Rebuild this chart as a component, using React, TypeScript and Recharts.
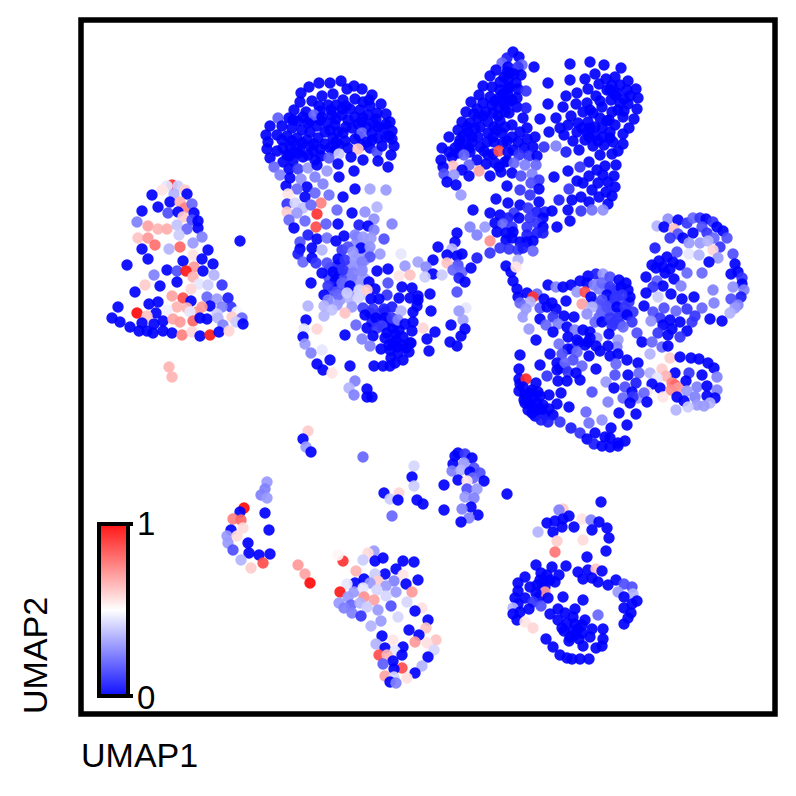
import { ScatterChart, Scatter, XAxis, YAxis, ReferenceArea } from 'recharts';

// each cell: [UMAP1, UMAP2, expression]
type Cell = [number, number, number];

const bellCells: Cell[] = [
  [17.2,61.5,.9],[17.8,61.4,.4],[16.7,61.4,.45],[16.2,61,.55],[18.5,61,.6],[15.2,60.5,0],[18.7,60.6,0],[17.4,60.6,.35],[17,59.8,0],[18,59.8,.65],[18.5,59.2,.75],[19.2,59.6,.2],[15.8,59.3,0],[14.2,58.9,0],[16.8,58.7,.15],[17.8,58.8,0],[18.3,58.3,.6],[19.4,58.7,0],[19.2,58,.15],[19.8,57.9,0],[13.7,57.8,.25],[14.8,57.4,.68],[15.8,57.1,.65],[16.7,57.1,.66],[17.7,57.5,.38],[18.7,57.1,.2],[19.8,57.2,0],[17.9,56.5,.4],[20.2,56.3,.25],[13.8,56.2,.62],[14.8,56.2,.7],[15.5,55.5,.78],[14.2,55.1,0],[16.9,55.1,.35],[18,55.3,.8],[19.3,55.7,.3],[20.8,55,0],[19.3,54.5,.56],[14.8,54.1,0],[20.2,54.1,0],[18.3,53.9,0],[12.7,53.5,0],[21.3,53.6,0],[19.4,53.3,.7],[16.7,53,0],[17.7,52.9,.15],[18.6,52.9,.95],[20.3,52.9,0],[15.4,52.5,.25],[21.4,52.5,.35],[19.3,52.3,.65],[17.7,51.8,0],[14.5,51.5,.6],[16,51.4,0],[19.9,51.6,.45],[20.8,51.5,.4],[22.2,51.5,.1],[19.1,51.1,.58],[13.5,50.8,0],[17.2,50.4,.68],[18.3,50.2,.85],[20.7,50.3,.2],[21.7,50.1,.3],[22.8,50.2,.05],[15.8,49.8,0],[14.9,49.6,0],[19.1,49.9,0],[21,49.4,0],[11.8,49.3,0],[23.1,49.3,.1],[22.2,49.3,.25],[17.7,49.3,.65],[20.2,49.3,.7],[16.7,49,.47],[13.7,48.7,.98],[15.6,48.7,0],[14.7,48.4,.62],[18.7,49.2,.65],[19.7,48.8,.7],[19,48.8,.45],[21.7,48.6,.4],[23.7,48.8,.48],[11.2,48.2,0],[12,47.8,0],[16.3,47.9,0],[17.3,48.1,.68],[18,47.8,.7],[19.3,47.9,.8],[20.7,48.1,0],[20,48.2,0],[21.8,48.2,.35],[23.2,48.3,.6],[24.2,48.2,.2],[14.2,47.7,0],[15.4,47.6,0],[22.3,47.5,.25],[23.6,47.8,.4],[24.3,47.6,0],[13,47.3,0],[13.9,46.9,0],[14.7,46.9,0],[15.3,46.7,0],[16.3,46.9,0],[17.2,46.7,0],[18.2,46.5,.75],[19.2,46.8,.58],[20,46.4,0],[21,46.5,.95],[21.9,46.8,0],[22.9,46.9,.58],[16.9,43.3,.65],[17.2,42.3,.65],[24,55.9,0],
];

const domeCells: Cell[] = [
  [34.1,71.9,0],[31.9,71.7,0],[33,71.7,0],[30.9,71.3,0],[35.4,71.4,0],[34.7,71.1,0],[36.2,71.1,0],[30.1,70.7,0],[32.2,70.4,0],[33.3,70.6,0],[37.2,70.5,0],[30,69.8,0],[31.2,69.9,0],[34.3,70,0],[35.5,70.1,0],[38.1,69.6,0],[36.3,69.8,0],[31.9,69.4,0],[32.8,69.5,0],[33.6,69.5,0],[37,69.4,0],[35,69.1,0],[36,69,0],[29.4,69,0],[30.6,68.8,0],[31.4,68.5,.2],[32.2,68.3,0],[33.2,68.5,0],[34.2,68.5,0],[36.8,68.5,0],[37.7,68.7,0],[38.6,68.6,0],[35.5,68.3,0],[27.8,68.2,.18],[28.9,68.2,0],[29.8,67.9,0],[30.8,67.7,0],[31.7,67.4,0],[32.7,67.7,0],[33.5,67.5,0],[34.8,68,0],[36.2,67.8,0],[37.3,67.7,0],[39,67.8,0],[27,67.4,0],[28.2,67.4,0],[29.2,67.2,0],[30.2,67,0],[31,66.8,0],[32.5,66.8,0],[34.3,66.7,0],[35.2,67.2,0],[36.2,66.7,.2],[37.2,66.7,0],[38.2,67.2,0],[39.2,66.9,0],[26.6,66.5,0],[27.7,66.5,0],[28.7,66.4,0],[29.7,66.2,0],[30.7,66,0],[31.8,66.2,0],[33.3,66.2,0],[35.5,66.1,0],[36.7,65.8,0],[37.8,66.2,0],[39.2,66.1,0],[26.8,65.8,0],[29,65.4,0],[30,65.2,0],[31,65.4,0],[32,65.1,0],[33,65.2,0],[33.9,65.5,0],[34.8,65.2,0],[35.8,65.1,.62],[37.7,64.8,.15],[38.2,65.4,0],[39.4,65.4,0],[26.7,65.1,0],[27.7,64.9,0],[28.7,64.5,0],[29.8,64.7,0],[30.8,64.5,0],[32.1,64.4,0],[32.9,64.2,.18],[33.9,64.6,.4],[35.1,64.3,0],[39.1,64.5,0],[27,64.2,0],[28.3,63.8,0],[29.3,63.9,0],[36.3,64,0],[37.8,63.9,0],[33.8,63.6,0],[27.4,63.3,.2],[28.9,63.1,0],[29.8,63.1,.12],[30.8,63.2,.3],[31.7,63.5,0],[32.7,62.9,.3],[35.4,62.9,0],[38.8,63.3,0],
];

const neckCells: Cell[] = [
  [28,62.5,.25],[29,62.2,0],[33.9,62.3,0],[30.1,62.1,.28],[31.5,62.3,.25],[28.6,61.4,0],[30.7,61.3,0],[32.3,61.6,.25],[29.7,61.1,.2],[35.5,61.1,0],[37,61.1,.32],[38.6,61,.3],[28.8,60.6,.55],[31.5,60.7,.2],[30.5,60.3,0],[32.9,60.5,.22],[34.3,60.3,0],[28.7,59.6,.1],[29.5,59.7,.42],[32.1,59.7,.75],[30.3,59.2,.38],[31.1,59.5,.2],[37.7,59.3,.35],[33.7,59,.2],[36.5,58.8,.28],[28.7,58.8,.6],[29.7,58.7,.3],[31.7,58.6,.9],[35.2,58.7,0],[37.4,58.1,.28],[28.9,58,.2],[30.5,57.9,.2],[29.4,57.2,0],[31.6,57.3,.85],[32.6,57.6,.18],[33.8,57.6,0],[35.9,57.5,.05],[36.8,57.4,0],[39.2,57.6,.25],[37.4,57,.25],[30.8,56.5,.05],[30,55.8,.15],[31.7,56.1,0],[32.7,56.2,.22],[33.6,55.9,0],[34.4,56.4,0],[35.5,56.5,.25],[36.3,56.3,.3],[37.1,56.2,.3],[38.4,56.1,.15],[30,55.1,0],[31.2,55.2,0],[32.2,55,.35],[34.2,55,.1],[34.8,55.3,.15],[36.1,55.2,0],[37,55.3,.28],[38,54.6,.3],[35.3,54.8,.3],[29.8,54.6,.05],[30.3,53.8,.2],[31.2,54.2,0],[31.6,53.7,.1],[32.7,53.7,.15],[33.8,54.1,0],[34.5,54,.1],[35.5,54,.3],[37,54.3,.15],[36.2,53.8,.25],[40.1,54.6,.45],[40.5,53.4,.3],[41.8,53.8,.32],[32.2,52.7,0],[33.3,52.8,0],[34.3,53,.1],[35.3,52.7,.25],[36.2,52.9,.27],[37.7,52.9,0],[38.8,53.1,0],[39.9,52.4,.55],[41,52.5,.62],[31.1,51.7,0],[33.5,51.9,0],[34.2,51.7,.2],[32.8,51.4,.1],[35.2,52,.25],[36.1,51.7,.3],[36.9,51.8,0],[38.8,51.7,.15],[40.2,51.3,0],[41.2,51.2,0],[35,51.4,0],[37.5,51.1,0],[35.9,51,.42],[36.7,51,.6],[33.8,50.5,.2],[32.4,50.5,0],[32.8,50,.25],[34.7,50.7,.4],[35.8,50.2,.42],[38.7,50.5,.1],[37.1,50.1,0],[37.9,50.1,0],[39.9,50.2,0],[41,50.2,0],[41.8,50,0],[30.8,49.4,.35],[32.4,49.4,.35],[33.7,49.5,.3],[33.2,49,.38],[35.2,49.3,.3],[36.3,49.2,.12],[37.3,49.1,.1],[38.4,49.1,.05],[39.2,49.3,.05],[41.3,48.8,0],[32.4,48.4,.35],[34.5,48.7,.62],[36.5,48.5,0],[37.6,48.2,0],[38.5,48.2,0],[40.1,48.9,.35],[39.2,48.2,.1],[39.8,48,.25],[30.6,48,0],[40.5,47.6,0],[41.3,47.8,0],[36.7,47.2,0],[38.2,47.4,.12],[35.6,47.5,.2],[30.4,47.1,.45],[31.7,47.1,.58],[37.7,47.2,.1],[41.2,46.9,0],[38.7,46.7,0],[39.5,46.6,0],[40.3,46.3,0],[34.5,46.5,0],[36.2,46.1,.25],[37.3,46.4,0],[30.3,46.3,0],[30.5,45.6,.3],[41,45.7,0],[39.3,45.7,0],[40.2,45.5,0],[37,45.4,.25],[31.1,44.7,.25],[32.2,45,.45],[38.1,45.1,0],[39,45,0],[40.9,44.8,0],[39.8,44.7,0],[39.1,44.2,0],[40.3,44,0],[33,44,0],[31.7,43.6,0],[37.4,43.4,0],[38.3,43.4,0],[39,43.4,0],[39.5,43.7,0],[35,43.4,0],[32.3,43,0],[33.2,42.7,.55],[35.5,41.9,.25],[34.9,41.2,.35],[36.7,41.1,0],[35.4,40.5,.25],[36.7,40.3,0],[37.2,40.3,0],
];

const bridgeCells: Cell[] = [
  [45.7,56.7,0],[45.5,55.8,0],[43.8,55.3,0],[47,57.3,.25],[47.7,56.5,.25],[48.5,57.3,.3],[49,55.9,.72],[49,54.7,.1],[45.2,55.1,.35],[44.7,54.5,0],[45.7,54.4,0],[46.2,54.6,0],[47.7,54.2,.05],[43.3,54,0],[44.7,53.7,.62],[42.6,53.3,.27],[45.8,53.5,.15],[45.3,53,.2],[46.2,52.8,.2],[47.1,53.2,0],[43.3,52.6,0],[42.5,52.3,.4],[44.2,52.5,.4],[45.9,52.2,.05],[46.5,51.8,0],[45.7,50.8,.15],[43,50.6,0],[41.8,50.4,0],[41.7,49.4,0],[43.1,48.9,0],[46.6,49.2,.45],[45.9,48.9,.3],[46.3,48,.32],[45.1,47.5,0],[46.5,47.1,0],[42.3,47.2,.58],[43.5,46.8,0],[46.1,46.4,0],[42.7,46.1,0],[45,45.8,0],[41.1,45.7,0],[45.7,45.4,0],[42.9,44.9,0],
];

const topLeftCells: Cell[] = [
  [51.3,74.8,0],[51.9,74.3,0],[50.7,74.2,.05],[50.2,73.7,.2],[52.2,73.5,.2],[53.4,73.3,0],[50.8,73.3,0],[49.6,73,0],[51.8,73.3,.1],[50.7,72.8,0],[52.1,72.5,0],[49,72.4,0],[51.4,72.6,0],[50,71.8,0],[50.8,72,0],[51.6,71.7,0],[48.3,71.4,0],[49.2,71.3,0],[50,71,0],[50.9,71.3,0],[51.8,71.1,0],[52.6,70.9,.1],[47.9,70.5,0],[49,70.3,0],[49.9,70.2,0],[50.8,70.5,0],[51.7,70.2,0],[47.1,69.8,0],[48.3,69.7,0],[49.2,69.5,0],[50.8,69.7,0],[51.7,69.3,0],[52.6,69.2,.05],[47.7,69.1,0],[48.6,68.8,0],[49.9,69.2,0],[46.6,68.8,0],[49.3,68.7,0],[50.9,68.7,0],[47.8,68.2,0],[48.8,67.8,0],[50,67.9,0],[52.3,68.2,0],[46.2,67.8,0],[47,67.7,0],[51.2,67.5,0],[48,67.3,0],[52.7,67.2,0],[45.8,67,0],[46.8,66.8,0],[48.8,66.7,0],[49.7,67,0],[52,66.8,0],[44.9,66.3,0],[46,66,0],[47.2,65.8,0],[47.8,66.3,0],[48.7,65.8,0],[50.2,66.7,0],[51.2,66.3,0],[53.5,66.3,0],[52.7,66.1,0],[51.8,65.8,0],[49.4,65.8,0],[45.5,65.2,0],[46.5,65.5,0],[48,65.3,0],[50.3,65.7,0],[53.3,65.3,0],[44.2,65.2,0],[47,64.8,0],[49.9,64.9,.85],[50.8,64.8,0],[48.8,64.5,0],[51.9,64.5,.1],[52.9,64.4,.1],[53.7,64.4,0],[54.4,65.3,.1],[55.6,65.4,.25],[45.2,64.3,0],[46.4,64.5,.2],[47.7,64,0],[44.1,64,0],[48.6,63.6,0],[49.5,63.7,0],[50.5,63.8,0],[46.9,63.5,.2],[51.4,63.7,.2],[52.5,63.5,.25],[53.6,63.5,.2],[45.3,63.4,.62],[44.3,63.3,0],[46.2,63,0],[47.9,62.9,.68],[44.4,62.6,.15],[45.4,62.5,.3],[50.1,62.8,0],[51.2,62.7,0],[46.9,62.4,0],[49,62.4,0],[52.1,62.4,.15],[53.2,62.6,.25],[44.7,61.8,0],[53.9,62,.1],[45.6,61.5,0],[53.1,61.7,.15],[50.7,61.4,0],[53.9,61.1,0],[46.1,60.5,.3],[52,61,.1],[53,60.5,.1],[49.6,60.1,0],[53.9,59.8,0],[50.8,59.7,0],[52,59.5,0],[52.8,59.2,.1],[47.3,59,0],[49,58.7,0],[50,58.5,0],[51.4,58.7,.1],[53.7,58.8,.05],[54.5,58.8,.05],[55.2,58.9,0],[50.8,58.2,.05],[51.9,58.2,0],[49.5,57.7,0],[53,58.2,.1],[54.3,58.2,0],[50.3,57.6,.2],[51.2,57.3,.1],[52.7,57.3,.1],[53.7,57.7,.1],[54.3,57.3,0],[55.7,57.3,0],[49.7,56.8,0],[50.6,56.7,0],[51.3,56.8,0],[53.7,56.7,.05],[52.7,56.5,.05],[54.3,56.7,.05],[50.6,56,0],[52,55.8,0],[52.7,55.8,0],[53.3,55.9,0],[51.2,56.2,0],[50,55.2,.1],[50.9,55.1,.1],[51.8,55,.1],[52.3,55.2,.05],[53.3,54.9,.2],
];

const topRightCells: Cell[] = [
  [57,73.6,0],[59,73.8,0],[60.4,73.5,0],[62.1,73.2,0],[59.5,72.6,0],[54.8,71.7,0],[57,72,0],[58.5,72.1,0],[61.5,72.3,0],[60.6,72.1,0],[62.8,71.9,0],[59.9,71.6,0],[62,71.5,0],[61.2,71.5,0],[58.8,71.1,0],[63.6,71.1,0],[62.7,71,0],[60.7,71,0],[61.7,70.7,0],[57.7,70.7,0],[56.6,70.4,0],[59.6,70.4,0],[63.8,70.2,0],[63,70.4,0],[61.1,70,0],[62,69.7,0],[62.8,69.6,0],[58.7,69.7,0],[57.6,69.6,0],[54.8,69.6,0],[56.3,69.3,0],[60.2,69.3,0],[63.7,69.1,0],[61.2,68.8,0],[58.3,68.8,0],[59.3,68.7,0],[62.3,68.3,0],[54,68.1,0],[55.6,68.2,0],[57.1,68.4,0],[60,68.2,0],[63.4,68.1,0],[60.7,67.9,0],[58.8,67.8,0],[57.8,67.7,0],[61.5,67.5,0],[56.8,67.5,0],[56,67.2,0],[59.5,67.3,0],[60.2,67.2,0],[62.9,67.2,0],[57.7,66.8,0],[54.9,66.8,0],[58.7,66.8,0],[61,66.8,0],[62.3,66.6,0],[56.4,66.5,0],[59.5,66.4,0],[60.3,66.3,0],[58.5,66,0],[57.3,65.9,0],[61.3,65.8,0],[60.4,65.5,0],[62.3,65.6,0],[59.3,65.4,0],[57.9,65,0],[61.8,64.9,0],[56.6,64.8,.05],[60,64.5,0],[61.2,64.6,0],[58.9,63.8,0],[61.6,63.5,0],[60.5,63.4,0],[58,63.3,.1],[59.7,63,0],[56.8,62.9,0],[61.4,62.4,0],[58.9,62.4,0],[60.3,62.5,0],[55.4,62.3,0],[57.7,61.9,0],[60.8,61.8,0],[59.8,61.7,0],[58.3,61.7,0],[61.5,61.3,0],[56.9,61.1,.1],[59.2,61,0],[60.6,60.8,0],[61.2,60.4,0],[58.1,60.3,0],[59.9,60.3,0],[55.9,60,.05],[57.2,60,0],[58.9,59.8,0],[60.8,59.6,0],[56.8,59,0],[58.1,58.9,.1],[59.2,59,.22],[60.3,59,.28],[57,57.9,0],
];

const ringCells: Cell[] = [
  [66.8,58.1,.28],[67.8,58,0],[65.7,57.4,.35],[66.4,57.3,0],[67.4,57.1,.62],[68.7,57.7,.1],[69.3,58.2,.2],[70,58.2,.1],[70.6,58.1,0],[71.3,57.8,.1],[70.2,57.3,.15],[71.7,57.3,0],[72.3,56.9,0],[69.3,56.7,0],[67.8,56.6,.15],[67,56.2,.1],[68.3,56.2,0],[70.7,56.7,.1],[71.4,56.2,.2],[72.7,56.2,.15],[68.9,55.7,.3],[70,55.7,.3],[70.8,55.9,.35],[65.5,55.2,.05],[72,55.3,.1],[71.3,55,.58],[67.7,54.8,.15],[73.3,54.6,.15],[68.9,54.6,.45],[69.9,54.5,.35],[66.7,54.3,0],[71.8,54.2,.3],[65.9,53.9,0],[70.9,53.8,0],[73.5,53.6,0],[65.2,53.5,0],[67.3,53.8,0],[68,53.5,0],[66.3,53.3,0],[65.6,53.2,0],[67,53.1,0],[73.8,52.8,0],[68.7,52.7,.2],[70.2,52.7,.2],[73.1,52.6,0],[66.5,52.7,0],[64.6,52.3,0],[67.4,52.1,0],[74.2,52.2,.1],[65.7,51.9,.18],[66.3,51.4,0],[68.1,51.4,.25],[74.2,51.6,0],[65.3,51.3,.1],[73.3,51.3,.28],[71.3,51,.25],[74.4,51,.25],[64.6,50.7,0],[67.1,50.6,0],[65.8,50.3,.4],[69.4,50.3,0],[74.1,50.3,.05],[68.2,50.1,0],[73.1,50.1,.15],[71.4,49.7,.25],[64.4,49.4,0],[66.4,49.2,.15],[73.8,49.5,.25],[68.7,49.1,.1],[70.2,49.2,.2],[67.6,48.9,.2],[65.3,48.8,.15],[73.5,49.2,.3],[73,48.7,.35],[69.5,48.4,.1],[66,48.2,.1],[67,48,0],[71,48.1,0],[72.2,47.9,0],[65.1,47.9,.28],[68,47.8,0],[69.2,47.8,.1],[66.3,47.5,0],[67.2,47.1,0],[68.7,46.9,0],[65.8,46.7,.1],[66.8,46.5,0],[68,46.3,.1],[63.7,46.7,.15],[64.2,45.8,0],[65.2,45.8,.2],[66.2,45.3,.2],[66.8,45.4,0],
];

const flowerCells: Cell[] = [
  [50.6,53.4,0],[51.1,52.8,0],[51.8,54,.35],[51.6,53.3,.55],[51.3,51.9,0],[51.7,51.1,0],[51.8,50.3,0],[52.7,50.7,0],[53.7,50.6,.2],[53.3,50.3,.9],[53,49.8,.35],[52,49.7,.2],[52.6,49.1,.3],[52.3,48.3,.3],[53.3,48.3,.5],[54,49.2,.15],[52.9,47.1,.3],[53.6,46,0],[54.8,51.5,0],[55.6,51.3,.25],[56.3,51.3,0],[57.1,51.5,0],[58,51.9,0],[58.8,52.4,0],[58.7,51.7,0],[59.6,52.6,.05],[60.3,52.6,.3],[59.4,51.5,.25],[60.2,51.7,.2],[61,52.3,.15],[61.9,52,0],[62.6,51.7,0],[57.7,50.8,.3],[58.5,50.8,.85],[59.1,50.3,0],[61,51.3,.1],[60.7,50.5,0],[62.8,51,0],[63,50.3,0],[56.6,49.9,0],[58.2,49.6,.68],[54.4,50.1,0],[54.7,49.3,0],[55.2,49.7,0],[55.6,49.1,0],[61.5,50.2,.1],[62.2,50.5,.1],[60.2,50,.15],[59.2,49.3,.35],[60.7,49.3,.15],[61.7,49.3,0],[62.5,49.3,.1],[63.3,48.8,.1],[58.7,48.6,.28],[56.4,48.4,0],[57.4,48.3,0],[55.3,48.3,.1],[54,48.1,0],[54.6,47.5,.2],[55.8,47.6,.25],[59.5,47.8,.2],[60.2,47.8,0],[61,48.2,.1],[61.8,48.2,.1],[62.7,48.5,0],[63.2,47.8,.1],[62.3,47.3,.2],[61.3,47.7,.1],[56.7,47.3,0],[57.5,47,.25],[55.3,46.8,0],[58.3,47,0],[59,46.8,0],[60.9,46.6,0],[59.7,46.2,.3],[56.8,46.3,0],[57.7,46,0],[58.5,45.5,0],[59,46.2,0],[59.6,45.4,0],[55.9,45.6,.22],[61.8,46,.3],[61.7,45.3,.25],[60.8,45.4,0],[56.8,45.1,0],[57.7,44.8,.2],[60,44.9,0],[55,44.6,0],[61,44.4,0],[61.8,44.6,0],[56.2,44.6,.15],[52,44.5,0],[58.9,44.4,0],[62.7,44,0],[63.8,43.7,0],[57.3,44,.15],[55.7,43.7,0],[56.5,43.7,.2],[58.2,43.4,.2],[61.6,43.6,.2],[54,43.5,0],[51.9,43.1,0],[59.6,43.1,0],[55.7,43,0],[56.8,42.8,.1],[57.6,42.7,0],[62.8,42.5,0],[61.5,42.5,.15],[54.7,42.4,.1],[51.9,42.1,0],[52.6,42.1,.92],[55.8,41.9,0],[56.7,41.9,0],[58,42,0],[53.6,41.7,0],[60.6,41.8,.3],[59.2,40.8,.15],[61.4,41.2,0],[52.3,41.3,0],[53.2,41,0],[54.9,40.5,0],[56.1,40.7,0],[54,40.4,0],[52.5,40.5,0],[53.3,40.2,0],[55.7,39.6,0],[54.3,39.5,0],[52.5,39.7,0],[53.3,39.3,0],[56.9,39.3,0],[60.8,39.8,.25],[52.8,39,0],[54.5,38.5,0],[58.6,38.8,.2],[61.9,38.7,0],[63.6,38.6,0],[53.5,38.4,0],[55.3,38.5,0],[54.1,38,.05],[54.8,37.8,.05],[56,37.8,.1],[60.2,38,.28],[58.9,37.7,.22],[57.1,37.2,.05],[62.7,37.5,0],[61.1,37.2,0],[58,36.7,.1],[59.5,36.7,0],[58.7,36.1,0],[60.5,36.3,0],[61,36.2,0],[62.5,35.9,0],[61.8,35.7,0],[59.4,35.6,.05],[60.2,35.4,0],[61,35.3,0],[61.8,35.4,0],
  [67,44.2,.6],[68,44.3,0],[69.1,44.2,0],[69.9,44.1,0],[65,44.6,.35],[70.8,43.7,0],[71.4,43.2,0],[66.2,43.1,.6],[65,42.7,.35],[63.9,42.7,.2],[68.9,42.7,.1],[67.5,42.7,0],[70.2,42.5,0],[66.6,42.4,.65],[71.7,42.3,.25],[68.6,41.9,0],[67.2,41.7,.75],[65.7,42.2,.45],[63.6,41.7,.05],[62.5,41.3,.15],[65.2,41.6,0],[66,41.2,0],[69.7,41.3,.25],[70.7,41.4,0],[67.5,41.5,.8],[67.8,41.2,.7],[68.7,40.9,.3],[71.7,41,.25],[67.1,41,.72],[63.2,40.8,0],[64.7,40.8,.55],[63.8,40.2,.3],[62.3,40.2,.2],[63.3,40.3,.1],[64.4,40.7,.2],[66.3,40.3,.55],[67.7,40.3,0],[69.5,40.3,.25],[70.7,40.4,0],[71.5,40.2,0],[64.7,39.8,0],[63,39.7,0],[68.4,39.9,0],[71,39.7,.35],[69.7,39.5,.3],[70.4,39.4,.3],[68.8,39.3,.4],[67.6,39,.35],
];

const leftArcCells: Cell[] = [
  [30.8,36.9,.6],[30.3,36.1,0],[30.6,35.3,.3],[31.1,34.8,0],[36.3,34.3,.2],[26.7,31.8,.3],[26.5,31.1,.25],[26.1,30.5,.25],[26.7,30.2,.3],[24.4,29.2,.98],[24,28.8,0],[26.5,28.7,0],[23.3,28.1,.75],[24.1,28,.8],[24.3,27.2,.57],[26.9,27,0],[23.1,27,0],[22.7,26.4,.3],[23.7,26.4,.57],[22.8,25.7,.3],[24.8,25.7,0],[23.3,25,.15],[24.9,24.7,0],[25.9,24.5,0],[27,24.6,0],[24.1,24,.35],[26.3,23.7,.85],[25.1,23.2,.6],[29.8,23.5,.7],[30.5,22.6,.68],[31,21.7,.98],
];

const lowerMidCells: Cell[] = [
  [41.4,33.4,.42],[41.2,32.3,0],[41.4,31.4,.4],[38.4,30.7,0],[39.9,30.7,.58],[39,30.1,.4],[39.8,30,0],[41.7,30,0],[42.3,29.6,0],[39.2,28.4,.2],[44.4,31.5,0],[44.4,29,0],[37.4,24.9,.3],[36.8,24.7,.57],[38.3,24.2,0],[37.5,23.9,0],[34.3,23.9,.9],[36.3,24,.4],[40.3,23.9,0],[41.4,23.8,0],[35.6,22.9,.65],[39.6,23.1,0],[38.5,22.6,0],[37.5,22.6,.4],[36.4,22.1,0],[35.5,21.7,0],[40.3,22.5,.55],[41.8,22,0],[37.8,21.9,.6],[39.4,21.9,.25],[34.7,21.6,.45],[40.6,21.6,0],[38.6,21.4,.3],[37,21.7,.3],[34,20.8,.95],[35.4,20.8,.3],[36.3,21.2,.45],[37.7,21,.42],[41.2,20.8,.7],[39.6,20.8,.3],[34.8,20.3,.3],[36.4,20.3,.72],[37.4,20,.68],[38.6,20.4,.42],[33.9,19.7,.3],[35.1,19.5,.2],[36,19.7,.35],[39.1,19.4,.15],[40.7,19.8,.42],[34.4,19.2,.25],[36.7,19.3,.4],[37.8,19,.3],[42.2,19.2,.56],[41.5,18.9,0],[35.2,18.7,.25],[36.1,18.4,.1],[39.8,18.3,.42],[42.8,18,0],[38.1,17.9,.3],[37.1,17.4,.35],[40.9,17,0],[42.6,17.2,.62],[41.9,16.5,0],[38.2,16.4,0],[43.6,16,.62],[39.3,16,.55],[41.5,15.8,.7],[42.7,15.7,.56],[37.6,15.6,.35],[38.5,15.2,0],[40.3,15.3,0],[43.4,15,.42],[39.5,14.9,.45],[37.9,14.5,.85],[38.7,14.5,.65],[40.2,14.5,0],[42.8,14.3,0],[39.3,13.9,0],[38.3,13.6,.18],[42.2,13.4,.35],[40.2,13.2,.85],[39.4,13.1,0],[41.5,12.7,0],[38.5,12.4,.68],[39.4,12.3,.42],[40.7,12.2,.56],[39,11.8,0],[39.6,11.7,.25],[33.8,24.5,.52],
  [45.8,34.7,0],[45.5,34.4,0],[46.5,34.6,.1],[47.2,34.2,0],[45.3,33.6,0],[46.4,33.7,.3],[45.2,32.9,.25],[46.1,33,.35],[47.4,33.2,.15],[47,32.8,0],[48,32.7,.15],[47.3,32.2,.2],[45.8,32,0],[48.4,31.9,0],[46.7,31.9,.55],[46.7,31.1,.15],[47.7,31.1,.3],[46.5,30.3,.3],[47.4,30.2,.25],[50.7,30.6,0],[47.1,29.3,0],[46.2,29.1,.25],[47.8,28.5,0],[46.9,28.2,.25],[46.1,27.8,0],
];

const lowerRightCells: Cell[] = [
  [60.1,29.8,0],[56.3,29.1,.6],[55.9,29,.25],[56.9,28.4,0],[58.2,28.1,.55],[59.1,28,.25],[59.9,27.8,0],[54.7,27.7,0],[55.5,27.9,0],[56.3,28.1,0],[56.2,27.3,0],[55.3,26.8,0],[57.4,27.3,0],[59.2,27,0],[60.7,27.2,0],[53.8,26.8,.35],[60.9,26.2,0],[55.7,25.9,.6],[58.3,26,.57],[55.5,24.8,.77],[60.6,24.9,0],[58.7,24.3,0],[53.6,23.5,0],[55.2,23.3,0],[56.6,23.4,0],[54.1,22.7,0],[52.5,22.3,0],[54.7,22.5,0],[55.9,22.5,0],[57.8,22.8,0],[58.8,23,0],[59.6,23.1,.62],[60.2,22.9,0],[58.3,22.1,0],[54,22,0],[55,22,0],[55.5,21.8,0],[59.2,22.2,0],[59.8,21.8,0],[61.6,22,0],[51.8,21.7,0],[53,21.3,0],[53.7,21.5,0],[54.5,21.3,0],[60.8,21.5,0],[62.4,21.6,.15],[63.2,21.3,.15],[54.5,20.8,.7],[51.8,20.9,0],[53.6,20.7,0],[61.8,20.8,.3],[52.5,20.2,0],[51.5,20.2,0],[54.8,20.2,0],[56.3,20.3,0],[63.3,20.6,.35],[62.4,20.3,0],[58.3,20,0],[53.3,19.8,.1],[51.8,19.6,0],[54.1,19.4,.15],[63.7,19.9,0],[63.2,19.6,0],[62.4,19.2,0],[51.3,19.2,.35],[52.9,19.1,0],[55.8,19.1,0],[57.5,19.1,0],[52,18.8,0],[51.3,18.6,0],[55,18.6,0],[56.5,18.7,0],[59.8,18.5,.2],[63.1,18.7,0],[51.7,18,0],[52.5,17.8,.55],[55.8,18,0],[57.3,18.3,0],[58.5,18,0],[62.8,18.2,0],[62.4,17.6,0],[56.7,17.7,0],[57.5,17.6,0],[58.2,17.5,0],[53.3,17.2,.58],[56.4,16.9,0],[57.3,16.9,0],[59.2,17.1,0],[60.3,17.1,0],[58.2,16.7,0],[59,16.3,0],[54.6,16.1,0],[60.3,16.1,0],[57.9,16.1,0],[56.9,15.9,0],[58.3,15.4,0],[60.2,15.4,0],[55.3,15.3,0],[59.6,15.2,0],[56,14.5,0],[56.7,14.2,0],[57.2,14.1,0],[58,14.1,0],[58.9,14.1,0],
];

// overlapped cells in the crowded parts of each cluster
const crowdedCells: Cell[] = [
  [29.3,68,0],[30.3,68.3,0],[31,67.9,0],[32,68,0],[33.6,68.1,0],[34.6,67.3,0],[35.8,67.6,0],[36.7,67.3,0],[37.8,67.3,0],[38.6,67.6,0],[33,67,0],[33.8,66.8,0],[35.9,66.4,0],[37.2,66,0],[38.6,66.3,0],[28.2,66,0],[29.2,65.9,0],[30.2,65.7,0],[31.4,65.6,0],[32.5,65.6,0],[33.6,65.8,0],[34.5,65.9,0],[36.2,65.5,0],[37,65.2,0],[28.3,65.2,0],[29.4,64.8,0],[31.3,64.9,0],[33.4,64.9,0],[30.3,64.3,0],[31.5,64,0],[28.9,64.4,0],[34.6,69.4,0],[33.1,69,0],[32,68.9,0],[34.2,69.1,0],[36.9,70,0],[36.3,68.2,0],[37.6,68.1,0],[38.9,66.4,0],
  [35.7,56.3,.25],[36,55.7,.25],[35.5,55.5,.28],[36.4,55.5,.3],[36.8,54.8,.28],[35.9,54.5,.3],[36.5,54,.3],[35.7,53.4,.3],[36.2,53.1,.3],[35.1,53.5,.28],[34.8,52.6,.25],[34,52.9,.1],[33.5,53.3,.1],[33,53.2,.12],[34,53.6,.1],[32.9,52.2,.15],[33.8,52.3,0],[34.3,52,.15],[34.6,51.1,.2],[33.8,51.2,.15],[33.4,50.9,.15],[34,50,.3],[35,50.1,.35],[36.1,50.5,.4],[35.3,50.9,.3],[36.5,52.1,.3],[35.7,52,.3],
  [38.5,48.8,.1],[37,48.7,0],[37.9,48.6,.1],[38.8,48,.15],[39.6,47.6,.05],[38.6,47.6,0],[39.9,47,0],[39.2,47.2,0],[37.2,47.8,.05],[38.5,46.2,0],[39.6,46,0],[38.9,45.5,0],[39.7,45.3,0],[40.6,45.2,0],
  [59.3,49.8,.2],[60,49.5,.2],[61.2,50,.1],[61,49.6,.1],[62,49.9,.15],[62.9,49.8,.1],[60.8,48.9,.15],[61.7,48.7,.15],[62.4,48.7,.1],[60.2,48.7,.15],[60.6,51.2,.2],[61.4,51,.15],[61.8,50.9,.1],[62.1,51.3,0],[59.9,51.1,.25],[60.1,49,.2],[59.9,48.3,.2],[61.2,47.4,.1],[62,47.6,.1],[57.9,45.8,.1],[57.2,45.1,.1],[58.8,45.8,0],[56.5,43.2,.1],[56,43.2,0],
  [52.4,40,0],[53,40.7,0],[52.9,39.6,0],[53.7,39.7,0],[54.1,39.1,0],[54.9,39.1,0],[53.2,38.7,0],[54,38.9,0],[52.7,40.2,0],[53.8,40.8,0],[51.9,40.9,0],[52,41.6,0],
  [49.5,69.9,0],[50.3,70.6,0],[50.4,69.6,0],[51.2,70,0],[50.5,68.8,0],[49.8,68.4,0],[48.3,68.4,0],[47.4,68.6,0],[46.7,67.3,0],[47.5,67.2,0],[49.4,67.3,0],[50.5,67.3,0],[49.3,66.3,0],[50.7,65.9,0],[47.2,66.3,0],[46.3,66.4,0],[45.9,65.6,0],[46.9,65.2,0],[48.4,64.9,0],[49.3,64.6,0],[45.8,64.7,0],[44.9,64.8,0],[50.7,63.9,0],[49.9,63.3,0],[51.3,65,0],[52.4,65.2,0],[50.8,71.1,0],[50.4,72.3,0],[51,72.7,0],
  [61,71,0],[61.5,70.5,0],[62.4,70.1,0],[61.8,69,0],[62.4,68.9,0],[60.9,68,0],[59,67.2,0],[58.2,67.2,0],[58.9,66.3,0],[59.8,65.9,0],[61,66.2,0],[59,69,0],[60,69.9,0],
  [54.2,21.2,0],[53.9,20.3,0],[54.4,21.9,0],[56.2,17.2,0],[57.8,17.1,0],[57,16.3,0],[57.5,16.5,0],
];

const xRange = [8.1, 77.5];
const yRange = [8.6, 78];

const allCells = [
  ...crowdedCells, ...bellCells, ...domeCells, ...neckCells, ...bridgeCells, ...topLeftCells, ...topRightCells,
  ...ringCells, ...flowerCells, ...leftArcCells, ...lowerMidCells, ...lowerRightCells,
].map(([umap1, umap2, expr]) => ({ umap1, umap2, expr }));

// blue - white - red
const bwr = (v: number) => {
  if (v <= 0.5) {
    const c = Math.round((v / 0.5) * 255);
    return `rgb(${c},${c},255)`;
  }
  const c = Math.round(((1 - v) / 0.5) * 255);
  return `rgb(255,${c},${c})`;
};

const CellDot = (props: any) => (
  <circle cx={props.cx} cy={props.cy} r={5.7} fill={bwr(props.payload.expr)} fillOpacity={0.92} />
);

const font = 'Liberation Sans, Arial, sans-serif';

const App = () => {
  return (
    <div style={{ position: 'absolute', left: 0, top: 0, width: 796, height: 796, background: '#fff', fontFamily: font }}>
      <ScatterChart width={796} height={796} margin={{ top: 20, right: 21, bottom: 0, left: 0 }}>
        <XAxis
          type="number"
          dataKey="umap1"
          domain={xRange}
          height={82}
          tick={false}
          axisLine={false}
          tickLine={false}
          label={() => (
            <text x={81} y={767} fontSize={34} fill="#000" fontFamily={font}>UMAP1</text>
          )}
        />
        <YAxis
          type="number"
          dataKey="umap2"
          domain={yRange}
          width={81}
          tick={false}
          axisLine={false}
          tickLine={false}
          label={() => (
            <text x={47} y={714} fontSize={34} fill="#000" fontFamily={font} transform="rotate(-90 47 714)">UMAP2</text>
          )}
        />
        <ReferenceArea x1={xRange[0]} x2={xRange[1]} y1={yRange[0]} y2={yRange[1]} fill="none" stroke="#000" strokeWidth={5.5} ifOverflow="visible" />
        <Scatter data={allCells} shape={CellDot} isAnimationActive={false} />
      </ScatterChart>
      {/* colour scale */}
      <div style={{ position: 'absolute', left: 97, top: 522, width: 25, height: 168, border: '4px solid #000', background: 'linear-gradient(to bottom, #ff1a1a, #ffffff 50%, #1414ff)' }} />
      <div style={{ position: 'absolute', left: 129, top: 522, width: 4, height: 4, background: '#000' }} />
      <div style={{ position: 'absolute', left: 129, top: 694, width: 4, height: 4, background: '#000' }} />
      <div style={{ position: 'absolute', left: 137, top: 505, fontSize: 33, lineHeight: '38px', color: '#000' }}>1</div>
      <div style={{ position: 'absolute', left: 137, top: 679, fontSize: 33, lineHeight: '38px', color: '#000' }}>0</div>
    </div>
  );
};

export default App;
